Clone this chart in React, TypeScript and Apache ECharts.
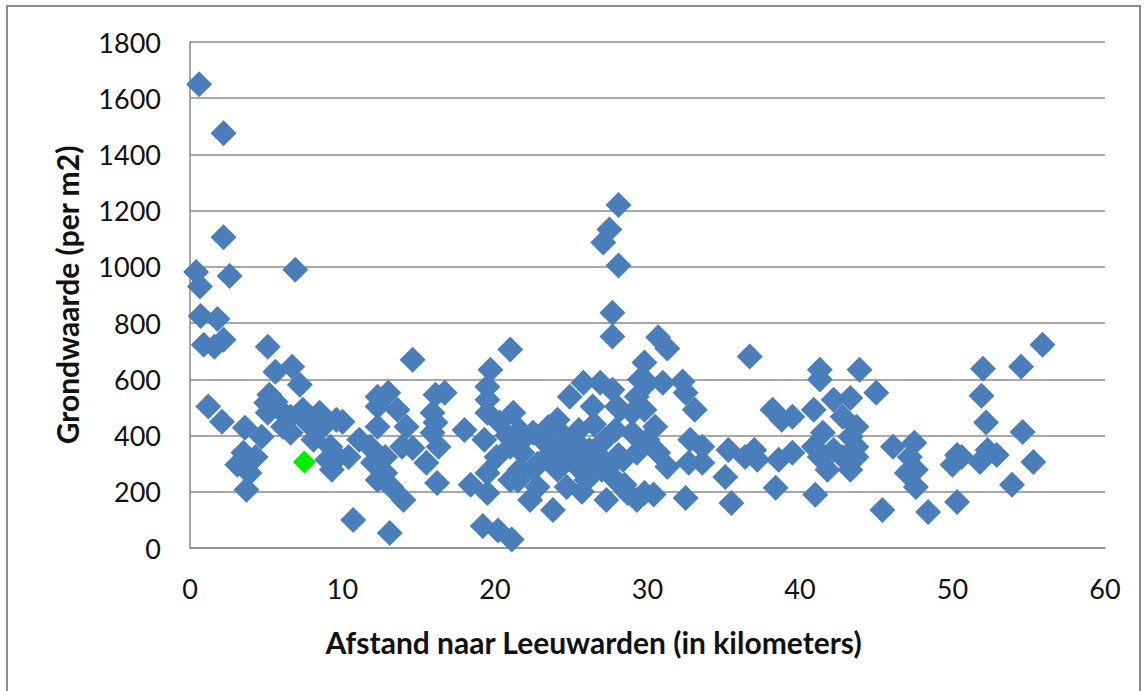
import React, { useEffect, useRef } from "react";
import * as echarts from "echarts";

// Afstand naar Leeuwarden (km) and Grondwaarde (per m2)
const distanceKm: number[] = [
  0.6, 2.2, 2.2, 2.6, 0.4, 0.65, 6.9, 0.7, 1.8, 2.2, 0.9, 1.6, 5.1, 5.6, 6.7, 7.2, 5.2, 5.0, 5.6, 5.9,
  5.1, 1.2, 2.1, 3.6, 4.7, 3.5, 3.1, 4.3, 3.9, 3.7, 6.6, 6.1, 6.6, 7.4, 7.7, 8.5, 8.7, 8.1, 9.2, 9.0,
  9.3, 9.6,
  14.6, 10.0, 9.7, 10.4, 11.1, 12.3, 13.0, 12.3, 13.6, 12.3, 14.2, 13.9, 14.6, 11.8, 12.0, 12.8, 12.8, 13.2,
  14.0, 12.3, 10.7, 13.1, 16.1, 16.7, 15.9, 16.1, 15.9, 16.3, 15.5, 16.2, 18.0, 18.4, 19.7, 19.5, 19.5, 19.5,
  19.3, 19.5, 19.5, 19.2, 20.2, 21.1,
  27.7, 27.7, 21.0, 21.2, 20.3, 24.9, 25.8, 26.9, 27.7, 28.0, 26.4, 29.8, 29.5, 29.3, 29.0, 29.0, 29.3, 24.1,
  22.5, 21.6, 23.1, 24.7, 21.8, 21.0, 20.1, 23.4, 25.1, 26.2, 26.9, 27.5, 28.4, 21.6, 22.5, 24.1, 25.6, 21.0,
  22.8, 24.7, 26.0, 27.3, 28.7, 29.3, 22.3, 23.8, 28.1, 27.5, 27.1, 28.1,
  28.2, 27.9, 27.2, 28.1, 27.0, 27.9, 28.5, 23.5, 22.0, 24.5, 25.5, 26.5, 25.3, 23.9, 22.8, 24.5, 26.0, 20.8,
  21.5, 25.7,
  30.7, 31.3, 36.7, 32.3, 31.0, 30.0, 32.5, 33.1, 30.5, 29.8, 30.0, 32.8, 33.6, 30.7, 31.3, 32.7, 33.6, 35.3,
  35.1, 35.5, 32.5, 37.0, 37.2, 36.4, 38.2, 38.8, 39.5, 38.6, 39.5, 38.4, 29.8, 30.4,
  41.3, 41.3, 43.9, 45.0, 42.2, 43.3, 40.9, 42.8, 43.7, 41.5, 43.3, 40.9, 43.7, 42.2, 41.3, 42.8, 43.7, 41.8,
  43.3, 41.0, 46.1, 47.5, 47.2, 47.6, 47.0, 47.6, 45.4, 48.4,
  50.3, 50.0, 50.3, 55.9, 54.5, 52.0, 51.9, 52.2, 54.6, 50.6, 51.8, 52.3, 52.9, 55.3, 53.9,
];

const groundValue: number[] = [
  1650, 1475, 1105, 968, 982, 930, 990, 825, 815, 741, 723, 716, 716, 627, 645, 581, 545, 517, 520, 492,
  481, 503, 449, 428, 396, 339, 296, 324, 267, 207, 467, 431, 410, 492, 446, 481, 431, 385, 360, 314,
  278, 456,
  670, 449, 324, 324, 385, 538, 552, 503, 492, 431, 431, 360, 356, 360, 303, 324, 267, 217,
  171, 242, 100, 53, 545, 552, 481, 446, 410, 360, 303, 231, 420, 225, 634, 574, 527, 481,
  385, 267, 196, 78, 62, 30,
  837, 752, 706, 481, 446, 538, 588, 588, 563, 503, 503, 660, 599, 538, 481, 410, 339, 456,
  410, 420, 385, 374, 339, 360, 324, 324, 324, 349, 324, 289, 314, 278, 278, 278, 278, 242,
  217, 217, 242, 171, 196, 171, 171, 135, 1220, 1133, 1087, 1005,
  492, 420, 385, 331, 278, 242, 225, 430, 395, 400, 420, 440, 380, 345, 300, 300, 300, 400,
  240, 200,
  750, 710, 681, 592, 588, 588, 552, 492, 431, 492, 385, 385, 360, 339, 289, 303, 303, 349,
  253, 160, 178, 349, 314, 324, 492, 456, 467, 314, 339, 214, 196, 190,
  634, 599, 634, 552, 527, 534, 492, 467, 431, 410, 396, 360, 360, 349, 324, 324, 324, 278,
  278, 189, 360, 374, 324, 278, 267, 217, 135, 128,
  331, 296, 164, 723, 645, 638, 542, 446, 413, 324, 306, 349, 331, 306, 225,
];

const highlightKm: number[] = [7.5];
const highlightValue: number[] = [306];

const yTicks: number[] = [0, 200, 400, 600, 800, 1000, 1200, 1400, 1600, 1800];
const xTicks: number[] = [0, 10, 20, 30, 40, 50, 60];

export default function App() {
  const ref = useRef<HTMLDivElement>(null);
  useEffect(() => {
    if (!ref.current) return;
    const chart = echarts.init(ref.current, undefined, { renderer: "svg" });
    const font = "Lato, 'Open Sans', sans-serif";
    const gridColor = "#8a8a8a";
    const mainData = distanceKm.map((x, i) => [x, groundValue[i]]);
    const hlData = highlightKm.map((x, i) => [x, highlightValue[i]]);
    chart.setOption({
      animation: false,
      backgroundColor: "#ffffff",
      graphic: [
        {
          type: "rect",
          shape: { x: 7, y: 6, width: 1133, height: 700 },
          style: { fill: "none", stroke: "#8c8c8c", lineWidth: 2 },
          silent: true,
        },
      ],
      grid: { left: 190, top: 42, right: 40, bottom: 143 },
      xAxis: {
        type: "value",
        min: xTicks[0],
        max: xTicks[xTicks.length - 1],
        interval: 10,
        name: "Afstand naar Leeuwarden (in kilometers)",
        nameLocation: "middle",
        nameGap: 79,
        nameTextStyle: {
          fontFamily: font,
          fontSize: 30,
          fontWeight: "bold",
          color: "#111",
          padding: [0, 108, 0, 0],
        },
        axisLine: { show: true, lineStyle: { color: gridColor, width: 1.5 } },
        axisTick: { show: false },
        axisLabel: { fontFamily: font, fontSize: 27, color: "#111", margin: 27 },
        splitLine: { show: false },
      },
      yAxis: {
        type: "value",
        min: yTicks[0],
        max: yTicks[yTicks.length - 1],
        interval: 200,
        name: "Grondwaarde (per m2)",
        nameLocation: "middle",
        nameGap: 108,
        nameRotate: 90,
        nameTextStyle: { fontFamily: font, fontSize: 30, fontWeight: "bold", color: "#111" },
        axisLine: { show: true, lineStyle: { color: gridColor, width: 1.5 } },
        axisTick: { show: false },
        axisLabel: {
          fontFamily: font,
          fontSize: 27,
          color: "#111",
          margin: 29,
          formatter: (v: number) => String(v),
        },
        splitLine: { show: true, lineStyle: { color: gridColor, width: 1.5 } },
      },
      series: [
        {
          type: "scatter",
          symbol: "diamond",
          symbolSize: 26,
          itemStyle: { color: "#4A7EBB", opacity: 1 },
          data: mainData,
          z: 2,
        },
        {
          type: "scatter",
          symbol: "diamond",
          symbolSize: 23,
          itemStyle: { color: "#00EE00", opacity: 1 },
          data: hlData,
          z: 3,
        },
      ],
    });
    return () => chart.dispose();
  }, []);
  return (
    <div
      ref={ref}
      style={{ position: "absolute", left: 0, top: 0, width: 1145, height: 691 }}
    />
  );
}
